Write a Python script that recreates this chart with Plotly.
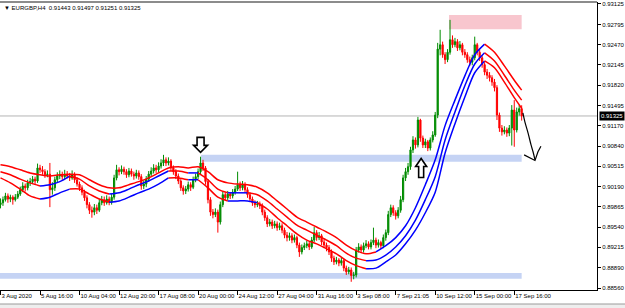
import plotly.graph_objects as go

# ---------------- data (EURGBP, H4) ----------------
first_open = 0.8990
closes = [
    0.8993, 0.8998, 0.9004, 0.8999, 0.9002, 0.8998, 0.9002, 0.9007, 0.9014, 0.9020,
    0.9017, 0.9025, 0.9027, 0.9031, 0.9028, 0.9049, 0.9046, 0.9043, 0.9038, 0.9039,
    0.9014, 0.9017, 0.9030, 0.9036, 0.9038, 0.9035, 0.9039, 0.9036, 0.9033, 0.9038,
    0.9030, 0.9023, 0.9017, 0.9010, 0.9001, 0.8990, 0.8981, 0.8978, 0.8985, 0.8981,
    0.8993, 0.8998, 0.8993, 0.8999, 0.8994, 0.9002, 0.9033, 0.9046, 0.9043, 0.9047,
    0.9043, 0.9038, 0.9044, 0.9039, 0.9036, 0.9041, 0.9035, 0.9020, 0.9023, 0.9031,
    0.9039, 0.9044, 0.9049, 0.9046, 0.9052, 0.9057, 0.9062, 0.9057, 0.9060, 0.9049,
    0.9043, 0.9036, 0.9028, 0.9017, 0.9012, 0.9015, 0.9022, 0.9018, 0.9030, 0.9035,
    0.9043, 0.9057, 0.9049, 0.9027, 0.8998, 0.8978, 0.8974, 0.8978, 0.8962, 0.8990,
    0.9006, 0.9001, 0.9007, 0.9004, 0.9010, 0.9015, 0.9022, 0.9017, 0.9022, 0.9014,
    0.9006, 0.8999, 0.8993, 0.8990, 0.8991, 0.8988, 0.8978, 0.8969, 0.8959, 0.8962,
    0.8956, 0.8959, 0.8953, 0.8956, 0.8949, 0.8941, 0.8937, 0.8940, 0.8933, 0.8937,
    0.8925, 0.8914, 0.8921, 0.8924, 0.8927, 0.8922, 0.8933, 0.8945, 0.8937, 0.8940,
    0.8930, 0.8925, 0.8921, 0.8914, 0.8904, 0.8898, 0.8901, 0.8896, 0.8900, 0.8888,
    0.8882, 0.8885, 0.8876, 0.8877, 0.8917, 0.8922, 0.8917, 0.8924, 0.8927, 0.8922,
    0.8929, 0.8933, 0.8925, 0.8929, 0.8924, 0.8937, 0.8945, 0.8974, 0.8985, 0.8977,
    0.8972, 0.8981, 0.8998, 0.9033, 0.9043, 0.9051, 0.9078, 0.9094, 0.9086, 0.9126,
    0.9097, 0.9086, 0.9091, 0.9081, 0.9094, 0.9102, 0.9134, 0.9240, 0.9247, 0.9231,
    0.9223, 0.9235, 0.9255, 0.9247, 0.9252, 0.9242, 0.9247, 0.9235, 0.9231, 0.9223,
    0.9219, 0.9226, 0.9247, 0.9235, 0.9226, 0.9215, 0.9203, 0.9198, 0.9194, 0.9187,
    0.9178, 0.9134, 0.9113, 0.9107, 0.9110, 0.9105, 0.9113, 0.9142, 0.9110, 0.9139,
    0.91443, 0.91325,
]
highs = [
    0.9000, 0.9003, 0.9009, 0.9008, 0.9006, 0.9005, 0.9007, 0.9012, 0.9019, 0.9026,
    0.9024, 0.9030, 0.9033, 0.9036, 0.9035, 0.9056, 0.9054, 0.9052, 0.9047, 0.9045,
    0.9057, 0.9026, 0.9035, 0.9042, 0.9045, 0.9043, 0.9046, 0.9044, 0.9041, 0.9045,
    0.9042, 0.9034, 0.9027, 0.9021, 0.9014, 0.9005, 0.8994, 0.8987, 0.8991, 0.8990,
    0.8999, 0.9004, 0.9003, 0.9005, 0.9003, 0.9007, 0.9038, 0.9054, 0.9050, 0.9053,
    0.9051, 0.9047, 0.9049, 0.9048, 0.9043, 0.9046, 0.9045, 0.9039, 0.9029, 0.9036,
    0.9044, 0.9050, 0.9055, 0.9054, 0.9058, 0.9063, 0.9070, 0.9066, 0.9066, 0.9063,
    0.9053, 0.9047, 0.9040, 0.9031, 0.9021, 0.9020, 0.9027, 0.9026, 0.9035, 0.9040,
    0.9048, 0.9067, 0.9062, 0.9052, 0.9031, 0.9002, 0.8983, 0.8984, 0.8982, 0.8995,
    0.9011, 0.9009, 0.9012, 0.9010, 0.9015, 0.9020, 0.9043, 0.9027, 0.9028, 0.9026,
    0.9018, 0.9010, 0.9003, 0.8997, 0.8996, 0.8995, 0.8992, 0.8982, 0.8973, 0.8967,
    0.8966, 0.8964, 0.8963, 0.8961, 0.8960, 0.8953, 0.8946, 0.8945, 0.8944, 0.8942,
    0.8940, 0.8929, 0.8926, 0.8929, 0.8932, 0.8930, 0.8938, 0.8954, 0.8949, 0.8946,
    0.8943, 0.8934, 0.8929, 0.8925, 0.8918, 0.8908, 0.8906, 0.8904, 0.8905, 0.8903,
    0.8892, 0.8890, 0.8889, 0.8882, 0.8922, 0.8928, 0.8926, 0.8929, 0.8933, 0.8931,
    0.8934, 0.8953, 0.8937, 0.8934, 0.8932, 0.8942, 0.8950, 0.8980, 0.8990, 0.8989,
    0.8981, 0.8986, 0.9004, 0.9038, 0.9049, 0.9057, 0.9083, 0.9100, 0.9098, 0.9131,
    0.9128, 0.9101, 0.9096, 0.9094, 0.9098, 0.9108, 0.9139, 0.9250, 0.9271, 0.9252,
    0.9235, 0.9240, 0.9287, 0.9262, 0.9258, 0.9256, 0.9253, 0.9250, 0.9240, 0.9235,
    0.9228, 0.9231, 0.9260, 0.9250, 0.9239, 0.9230, 0.9219, 0.9208, 0.9203, 0.9198,
    0.9192, 0.9182, 0.9138, 0.9118, 0.9116, 0.9114, 0.9118, 0.9150, 0.9158, 0.9146,
    0.9150, 0.91497,
]
lows = [
    0.8984, 0.8988, 0.8995, 0.8993, 0.8994, 0.8990, 0.8995, 0.8999, 0.9004, 0.9010,
    0.9011, 0.9013, 0.9020, 0.9023, 0.9022, 0.9025, 0.9041, 0.9038, 0.9033, 0.9034,
    0.8986, 0.9006, 0.9012, 0.9026, 0.9031, 0.9030, 0.9031, 0.9032, 0.9028, 0.9030,
    0.9025, 0.9019, 0.9012, 0.9005, 0.8996, 0.8984, 0.8975, 0.8969, 0.8973, 0.8975,
    0.8978, 0.8989, 0.8988, 0.8990, 0.8989, 0.8990, 0.8998, 0.9029, 0.9037, 0.9039,
    0.9038, 0.9033, 0.9034, 0.9035, 0.9030, 0.9032, 0.9030, 0.9014, 0.9015, 0.9018,
    0.9027, 0.9035, 0.9040, 0.9041, 0.9042, 0.9048, 0.9052, 0.9052, 0.9053, 0.9044,
    0.9038, 0.9031, 0.9023, 0.9012, 0.9006, 0.9007, 0.9011, 0.9012, 0.9015, 0.9026,
    0.9031, 0.9039, 0.9044, 0.9022, 0.8992, 0.8972, 0.8968, 0.8970, 0.8945, 0.8958,
    0.8986, 0.8996, 0.8997, 0.8999, 0.9000, 0.9006, 0.9012, 0.9012, 0.9013, 0.9009,
    0.9001, 0.8994, 0.8988, 0.8985, 0.8986, 0.8983, 0.8973, 0.8964, 0.8954, 0.8955,
    0.8951, 0.8952, 0.8948, 0.8949, 0.8944, 0.8936, 0.8931, 0.8932, 0.8928, 0.8929,
    0.8920, 0.8906, 0.8910, 0.8917, 0.8920, 0.8917, 0.8919, 0.8930, 0.8932, 0.8933,
    0.8925, 0.8920, 0.8915, 0.8909, 0.8898, 0.8893, 0.8894, 0.8891, 0.8892, 0.8883,
    0.8877, 0.8878, 0.8866, 0.8870, 0.8873, 0.8913, 0.8912, 0.8913, 0.8920, 0.8918,
    0.8918, 0.8925, 0.8920, 0.8921, 0.8919, 0.8920, 0.8932, 0.8941, 0.8970, 0.8972,
    0.8966, 0.8968, 0.8977, 0.8994, 0.9028, 0.9038, 0.9046, 0.9073, 0.9080, 0.9082,
    0.9091, 0.9081, 0.9081, 0.9076, 0.9077, 0.9090, 0.9099, 0.9129, 0.9230, 0.9226,
    0.9216, 0.9219, 0.9231, 0.9242, 0.9243, 0.9237, 0.9238, 0.9230, 0.9226, 0.9218,
    0.9213, 0.9214, 0.9222, 0.9230, 0.9221, 0.9210, 0.9198, 0.9192, 0.9188, 0.9181,
    0.9172, 0.9126, 0.9107, 0.9101, 0.9103, 0.9099, 0.9100, 0.9085, 0.9083, 0.9106,
    0.9133, 0.91251,
]
opens = [first_open] + closes[:-1]
bars = list(range(len(closes)))

# indicator lines (upper / middle / lower), read every 4 bars
line_bars = list(range(0, 209, 4)) + [211]
band_upper = [
    0.9054, 0.9051, 0.9046, 0.9041, 0.9038, 0.9036, 0.9038, 0.9039, 0.9038, 0.9030,
    0.9022, 0.9017, 0.9017, 0.9022, 0.9027, 0.9033, 0.9041, 0.9049, 0.9051, 0.9049,
    0.9051, 0.9043, 0.9030, 0.9025, 0.9023, 0.9022, 0.9018, 0.9009, 0.8996, 0.8983,
    0.8970, 0.8962, 0.8954, 0.8946, 0.8937, 0.8925, 0.8916, 0.8911, 0.8914, 0.8924,
    0.8937, 0.8956, 0.8985, 0.9022, 0.9062, 0.9117, 0.9158, 0.9197, 0.9231, 0.9248,
    0.9235, 0.9213, 0.9190, 0.9174,
]
band_mid = [
    0.9043, 0.9038, 0.9031, 0.9025, 0.9020, 0.9022, 0.9027, 0.9036, 0.9031, 0.9020,
    0.9012, 0.9007, 0.9009, 0.9015, 0.9022, 0.9028, 0.9036, 0.9044, 0.9044, 0.9041,
    0.9041, 0.9030, 0.9015, 0.9009, 0.9009, 0.9009, 0.9006, 0.8996, 0.8983, 0.8970,
    0.8957, 0.8949, 0.8941, 0.8933, 0.8924, 0.8912, 0.8904, 0.8900, 0.8901, 0.8909,
    0.8922, 0.8940, 0.8965, 0.8998, 0.9035, 0.9094, 0.9139, 0.9181, 0.9216, 0.9234,
    0.9221, 0.9198, 0.9174, 0.9158,
]
band_lower = [
    0.9033, 0.9025, 0.9015, 0.9004, 0.8999, 0.9002, 0.9009, 0.9015, 0.9015, 0.9007,
    0.8999, 0.8994, 0.8996, 0.9002, 0.9009, 0.9015, 0.9023, 0.9033, 0.9033, 0.9030,
    0.9030, 0.9017, 0.9002, 0.8996, 0.8996, 0.8996, 0.8993, 0.8983, 0.8969, 0.8956,
    0.8943, 0.8933, 0.8927, 0.8919, 0.8911, 0.8900, 0.8892, 0.8887, 0.8888, 0.8898,
    0.8909, 0.8927, 0.8949, 0.8977, 0.9010, 0.9073, 0.9120, 0.9163, 0.9202, 0.9221,
    0.9210, 0.9187, 0.9162, 0.9145,
]
# bar spans where each line is drawn blue; red elsewhere
upper_blue_spans = [(152, 196)]
mid_blue_spans = [(16, 28), (44, 68), (76, 80), (92, 100), (148, 196)]
lower_blue_spans = [(16, 28), (44, 68), (76, 80), (92, 104), (148, 196)]

x_tick_bars = [0, 16, 32, 48, 64, 80, 96, 112, 128, 144, 160, 176, 192, 208]
x_tick_labels = ["3 Aug 2020", "5 Aug 16:00", "10 Aug 04:00", "12 Aug 20:00",
                 "17 Aug 08:00", "20 Aug 00:00", "24 Aug 12:00", "27 Aug 04:00",
                 "31 Aug 16:00", "3 Sep 08:00", "7 Sep 21:05", "10 Sep 12:00",
                 "15 Sep 00:00", "17 Sep 16:00"]
y_tick_vals = [0.93125, 0.92795, 0.92470, 0.92145, 0.91820, 0.91495, 0.91170,
               0.90840, 0.90515, 0.90190, 0.89865, 0.89540, 0.89215, 0.88890, 0.88560]
y_tick_labels = ["%.5f" % v for v in y_tick_vals]

last_price = 0.91325
title_text = "EURGBP,H4  0.91443 0.91497 0.91251 0.91325"

# zones: (bar_from, bar_to, price_low, price_high)
zone_resistance = (81.2, 211.0, 0.9059, 0.9070)
zone_support = (-1.0, 211.0, 0.8871, 0.8880)
zone_top = (181.6, 211.0, 0.9272, 0.9295)

# marker anchors (bar, price)
down_arrow_at = (81.0, 0.9086)
up_arrow_at = (170.3, 0.9049)
# hand drawn projection arrow (bar, price)
sketch_bars = [211.5, 212.3, 213.6, 214.8, 215.6, 216.4]
sketch_prices = [0.91374, 0.9123, 0.9105, 0.9086, 0.9075, 0.9062]
sketch_head_bars = [212.0, 216.4, 217.6, 218.8]
sketch_head_prices = [0.9070, 0.9061, 0.9075, 0.9084]

# ---------------- styling ----------------
GREEN = "#008c00"
RED = "#ff0000"
BLUE = "#0000ff"
FONT = "Liberation Sans"
X_RANGE = [-0.2, 241.5]
Y_RANGE = [0.88528, 0.93157]
PX_X = 597 / (X_RANGE[1] - X_RANGE[0])      # px per bar
PX_Y = 288 / (Y_RANGE[1] - Y_RANGE[0])      # px per price unit

fig = go.Figure()

shapes = []
for (b0, b1, p0, p1), col in [(zone_resistance, "#c5d3f4"), (zone_support, "#c5d3f4"),
                               (zone_top, "#f8c6ce")]:
    shapes.append(dict(type="rect", xref="x", yref="y", x0=b0, x1=b1, y0=p0, y1=p1,
                       fillcolor=col, line=dict(width=0), layer="below"))
shapes.append(dict(type="line", xref="paper", yref="y", x0=0, x1=1, y0=last_price,
                   y1=last_price, line=dict(color="#b4b4b4", width=1), layer="below"))
shapes.append(dict(type="line", xref="paper", yref="paper", x0=0, x1=1, y0=1, y1=1,
                   line=dict(color="#8c8c8c", width=2)))
shapes.append(dict(type="rect", xref="paper", yref="paper", x0=-0.01, x1=1.1,
                   y0=-14 / 288, y1=-20 / 288, fillcolor="#eeeeee",
                   line=dict(color="#9a9a9a", width=1)))


def hollow_arrow(anchor, up, w_head=14, w_shaft=7, h_total=16, h_head=8):
    b, p = anchor
    sx = lambda dx: b + dx / PX_X
    sy = lambda dy: p - dy / PX_Y
    s = -1 if up else 1
    half = h_total / 2
    pts = [
        (-w_shaft / 2, -s * half), (w_shaft / 2, -s * half),
        (w_shaft / 2, s * (half - h_head)), (w_head / 2, s * (half - h_head)),
        (0, s * half), (-w_head / 2, s * (half - h_head)),
        (-w_shaft / 2, s * (half - h_head)),
    ]
    path = "M " + " L ".join("%f,%f" % (sx(dx), sy(dy)) for dx, dy in pts) + " Z"
    return dict(type="path", xref="x", yref="y", path=path,
                line=dict(color="black", width=1.6), fillcolor="white")


shapes.append(hollow_arrow(down_arrow_at, up=False, w_head=14, w_shaft=7, h_total=15, h_head=7))
shapes.append(hollow_arrow(up_arrow_at, up=True, w_head=11, w_shaft=5, h_total=19, h_head=8))

fig.add_trace(go.Candlestick(
    x=bars, open=opens, high=highs, low=lows, close=closes,
    increasing=dict(line=dict(color=GREEN, width=1), fillcolor=GREEN),
    decreasing=dict(line=dict(color=RED, width=1), fillcolor=RED),
    whiskerwidth=0, hoverinfo="skip", showlegend=False,
))


def add_band(values, blue_spans):
    cols = []
    for i in range(len(values) - 1):
        a, b = line_bars[i], line_bars[i + 1]
        blue = any(s <= a and b <= e for s, e in blue_spans)
        cols.append(BLUE if blue else RED)
    start = 0
    for i in range(1, len(cols) + 1):
        if i == len(cols) or cols[i] != cols[start]:
            fig.add_trace(go.Scatter(
                x=line_bars[start:i + 1], y=values[start:i + 1], mode="lines",
                line=dict(color=cols[start], width=1.5, shape="spline", smoothing=0.8),
                hoverinfo="skip", showlegend=False))
            start = i


add_band(band_upper, upper_blue_spans)
add_band(band_mid, mid_blue_spans)
add_band(band_lower, lower_blue_spans)

fig.add_trace(go.Scatter(x=sketch_bars, y=sketch_prices, mode="lines",
                         line=dict(color="black", width=1.2, shape="spline"),
                         hoverinfo="skip", showlegend=False, cliponaxis=False))
fig.add_trace(go.Scatter(x=sketch_head_bars, y=sketch_head_prices, mode="lines",
                         line=dict(color="black", width=1.2),
                         hoverinfo="skip", showlegend=False, cliponaxis=False))

annotations = [
    dict(xref="paper", yref="paper", x=0.004, y=1, xanchor="left", yanchor="top",
         yshift=-1, text="\u25bc " + title_text, showarrow=False,
         font=dict(family=FONT, size=6, color="black")),
    dict(xref="paper", yref="y", x=1, y=last_price, xanchor="left", yanchor="middle",
         xshift=2, text="%.5f" % last_price, showarrow=False, bgcolor="black",
         borderpad=1, font=dict(family=FONT, size=6, color="white")),
]

fig.update_layout(
    width=625, height=308,
    margin=dict(l=0, r=28, t=2, b=18),
    paper_bgcolor="white", plot_bgcolor="white",
    showlegend=False,
    shapes=shapes, annotations=annotations,
    xaxis=dict(range=X_RANGE, showgrid=False, zeroline=False, showline=True,
               linecolor="black", linewidth=1, ticks="outside", ticklen=4,
               tickcolor="black", tickvals=x_tick_bars, ticktext=x_tick_labels,
               ticklabelposition="outside right", tickangle=0,
               tickfont=dict(family=FONT, size=6, color="black"),
               rangeslider=dict(visible=False), fixedrange=True),
    yaxis=dict(range=Y_RANGE, side="right", showgrid=False, zeroline=False,
               showline=True, linecolor="black", linewidth=1, ticks="outside",
               ticklen=3, tickcolor="black", tickvals=y_tick_vals,
               ticktext=y_tick_labels,
               tickfont=dict(family=FONT, size=6, color="black"), fixedrange=True),
)

fig.write_html("out.html")
